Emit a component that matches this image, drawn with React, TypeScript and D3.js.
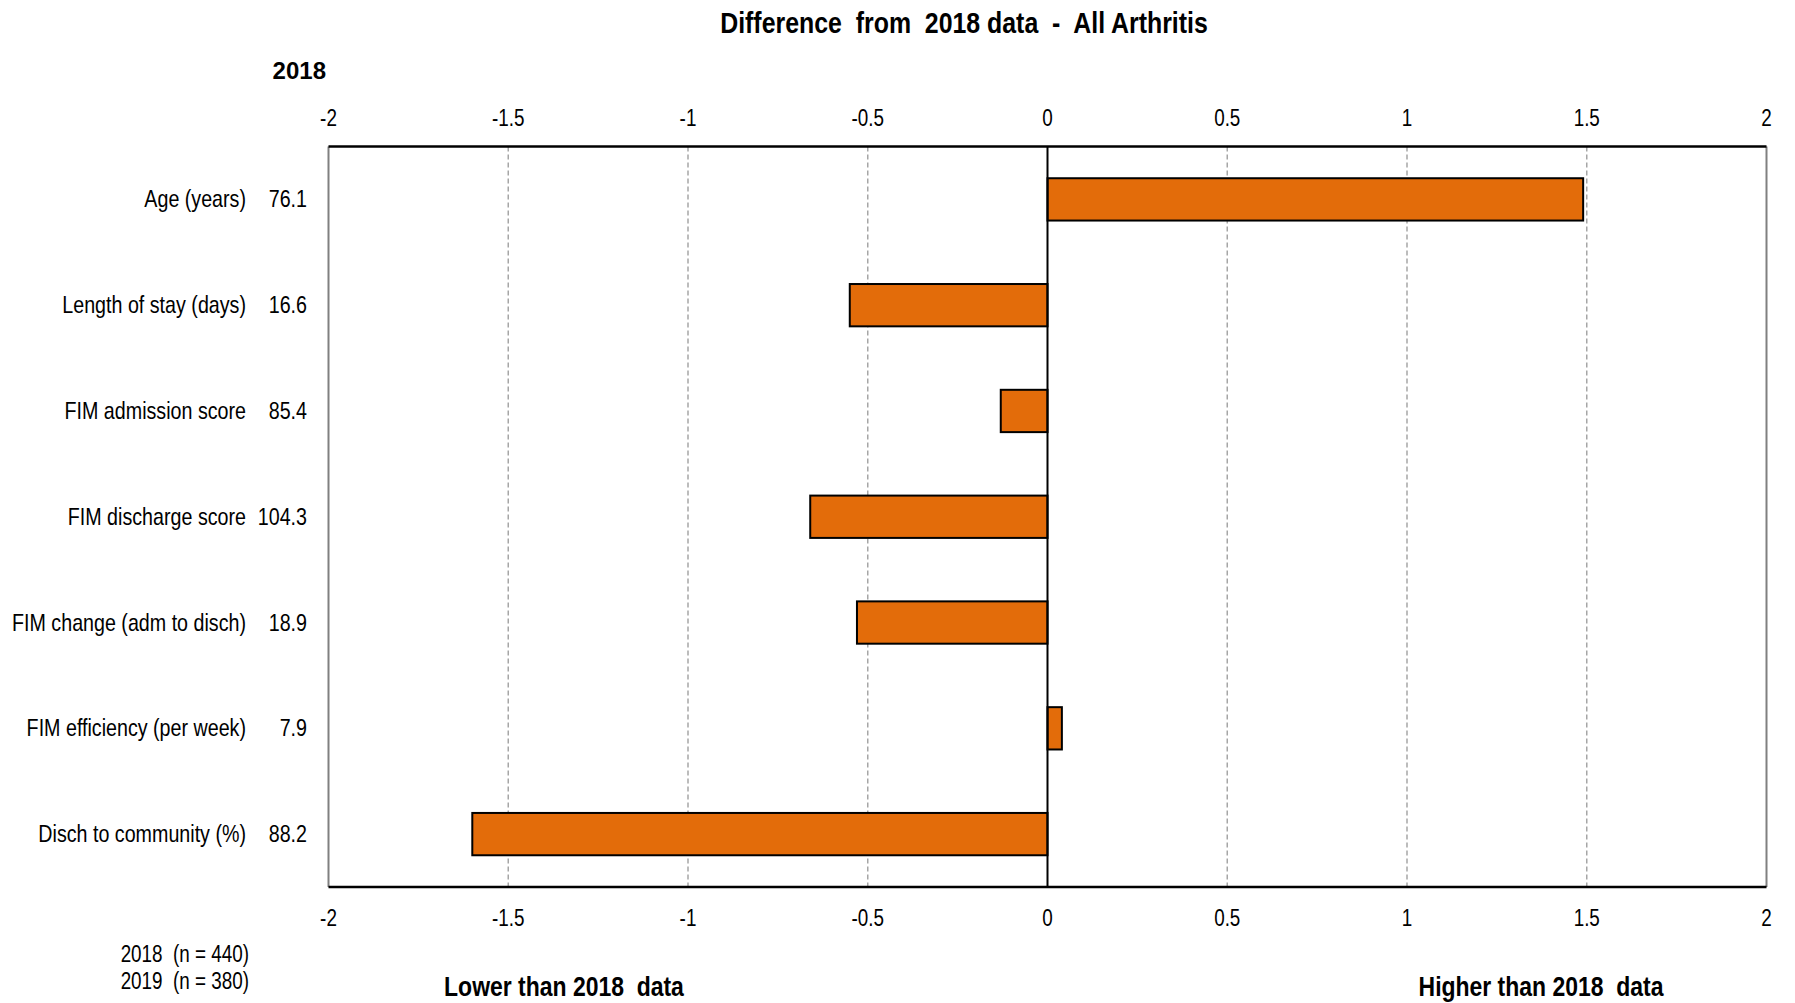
import React from "react";
import * as d3 from "d3";

const categories = [
  "Age (years)",
  "Length of stay (days)",
  "FIM admission score",
  "FIM discharge score",
  "FIM change (adm to disch)",
  "FIM efficiency (per week)",
  "Disch to community (%)",
];
const baseline2018 = ["76.1", "16.6", "85.4", "104.3", "18.9", "7.9", "88.2"];
const differences = [1.49, -0.55, -0.13, -0.66, -0.53, 0.04, -1.6];
const xTicks = [-2, -1.5, -1, -0.5, 0, 0.5, 1, 1.5, 2];
const sampleNotes = ["2018 (n = 440)", "2019 (n = 380)"];

const W = 1795;
const H = 1003;
const FONT = "'Liberation Sans', Arial, sans-serif";
const SX = 0.82;

function NText({ x, y, children, anchor = "start", size = 21, bold = false, sx = SX }: any) {
  return (
    <text
      transform={`translate(${x},${y}) scale(${sx},1)`}
      textAnchor={anchor}
      fontSize={size}
      fontWeight={bold ? "bold" : "normal"}
      fill="#000"
      style={{ whiteSpace: "pre" }}
    >
      {children}
    </text>
  );
}

export default function App() {
  const left = 328.5, right = 1766.5, top = 146.5, bottom = 887;
  const x = d3.scaleLinear().domain([-2, 2]).range([left, right]);
  const y = d3.scaleBand().domain(categories).range([top, bottom]).paddingInner(0.6).paddingOuter(0.3);
  const fmt = (v: number) => String(v);
  return (
    <div style={{ position: "absolute", left: 0, top: 0 }}>
      <svg width={W} height={H} style={{ display: "block", background: "#fff" }} fontFamily={FONT}>
        <NText x={964} y={33} anchor="middle" bold size={30} sx={0.83}>
          Difference  from  2018 data  -  All Arthritis
        </NText>
        <NText x={326} y={79} anchor="end" bold size={24} sx={1}>2018</NText>
        {xTicks.filter(t => t !== 0 && t !== -2 && t !== 2).map(t => (
          <line key={"g" + t} x1={x(t)} x2={x(t)} y1={top} y2={bottom} stroke="#a6a6a6" strokeWidth={1.5} strokeDasharray="5,3" />
        ))}
        {categories.map((c, i) => {
          const v = differences[i];
          const x0 = x(Math.min(0, v));
          const w = Math.abs(x(v) - x(0));
          return (
            <rect key={c} x={x0} y={y(c)!} width={w} height={y.bandwidth()} fill="#e36c0a" stroke="#000" strokeWidth={2} />
          );
        })}
        <line x1={x(0)} x2={x(0)} y1={top} y2={bottom} stroke="#000" strokeWidth={2} />
        <line x1={left} x2={left} y1={top} y2={bottom} stroke="#808080" strokeWidth={2} />
        <line x1={right} x2={right} y1={top} y2={bottom} stroke="#808080" strokeWidth={2} />
        <line x1={left} x2={right} y1={top} y2={top} stroke="#000" strokeWidth={2.5} />
        <line x1={left} x2={right} y1={bottom} y2={bottom} stroke="#000" strokeWidth={2.5} />
        {xTicks.map(t => (
          <NText key={"tt" + t} x={x(t)} y={126} anchor="middle" size={23}>{fmt(t)}</NText>
        ))}
        {xTicks.map(t => (
          <NText key={"tb" + t} x={x(t)} y={926} anchor="middle" size={23}>{fmt(t)}</NText>
        ))}
        {categories.map((c, i) => (
          <g key={"l" + c}>
            <NText x={246} y={y(c)! + y.bandwidth() / 2 + 8} anchor="end" size={24}>{c}</NText>
            <NText x={307} y={y(c)! + y.bandwidth() / 2 + 8} anchor="end" size={24}>{baseline2018[i]}</NText>
          </g>
        ))}
        {sampleNotes.map((s, i) => (
          <NText key={s} x={249} y={962 + i * 27} anchor="end" size={23}>{s.replace(" (", "  (")}</NText>
        ))}
        <NText x={564} y={996} anchor="middle" bold size={28}>Lower than 2018  data</NText>
        <NText x={1541} y={996} anchor="middle" bold size={28}>Higher than 2018  data</NText>
      </svg>
    </div>
  );
}
